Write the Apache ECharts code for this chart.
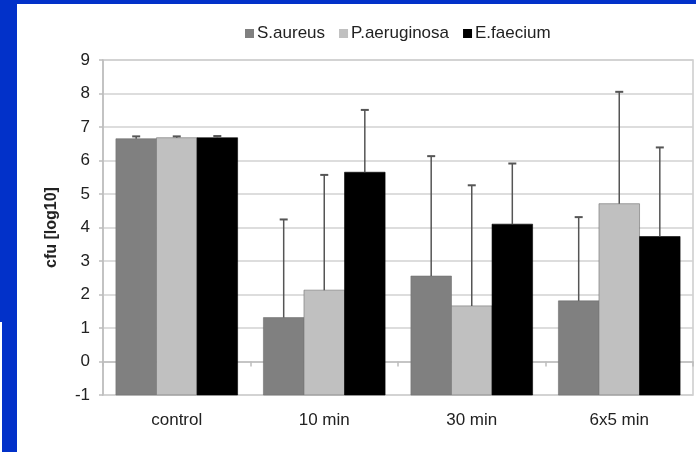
<!DOCTYPE html>
<html>
<head>
<meta charset="utf-8">
<script src="https://cdn.jsdelivr.net/npm/echarts@6/dist/echarts.min.js"></script>
<style>
  html, body { margin: 0; padding: 0; }
  body { width: 696px; height: 452px; background: #0231c9; position: relative; overflow: hidden; }
  #edge { position: absolute; left: 0; top: 322px; width: 2px; height: 130px; background: #ffffff; }
  #chart { position: absolute; left: 17px; top: 4px; width: 679px; height: 448px; background: #ffffff; }
</style>
</head>
<body>
<div id="edge"></div>
<div id="chart"></div>
<script>
// Bacterial counts after treatment, mean cfu (log10) with upper standard deviation
const categories = ['control', '10 min', '30 min', '6x5 min'];
const seriesNames = ['S.aureus', 'P.aeruginosa', 'E.faecium'];
const saureus = [6.65, 1.31, 2.55, 1.81];
const saureusSd = [0.07, 2.93, 3.58, 2.50];
const paeruginosa = [6.68, 2.13, 1.66, 4.71];
const paeruginosaSd = [0.04, 3.44, 3.60, 3.34];
const efaecium = [6.68, 5.65, 4.10, 3.73];
const efaeciumSd = [0.05, 1.86, 1.81, 2.66];
const yTicks = [-1, 0, 1, 2, 3, 4, 5, 6, 7, 8, 9];

const colors = ['#808080', '#c0c0c0', '#000000'];
const means = [saureus, paeruginosa, efaecium];
const sds = [saureusSd, paeruginosaSd, efaeciumSd];
const yMin = yTicks[0];
const yMax = yTicks[yTicks.length - 1];

const chart = echarts.init(document.getElementById('chart'), null, { renderer: 'canvas' });

// Each organism is one custom series: bar rising from the axis floor plus an upward error whisker
function makeRenderer(slot) {
  return function (params, api) {
    const ci = api.value(0);
    const v = api.value(1);
    const sd = api.value(2);
    const band = api.size([1, 0])[0];
    const barW = band * 0.275;
    const center = api.coord([ci, v]);
    const cx = center[0] + (slot - 1) * barW;
    const top = center[1];
    const base = api.coord([ci, yMin])[1];
    const errTop = api.coord([ci, v + sd])[1];
    const cap = 4;
    return {
      type: 'group',
      children: [
        {
          type: 'rect',
          shape: { x: cx - barW / 2, y: top, width: barW, height: base - top },
          style: { fill: colors[slot], stroke: slot === 2 ? '#000000' : '#6e6e6e', lineWidth: 0.6 }
        },
        {
          type: 'line',
          shape: { x1: cx, y1: top, x2: cx, y2: errTop },
          style: { stroke: '#555555', lineWidth: 1.5 }
        },
        {
          type: 'line',
          shape: { x1: cx - cap, y1: errTop, x2: cx + cap, y2: errTop },
          style: { stroke: '#555555', lineWidth: 2 }
        }
      ]
    };
  };
}

const series = seriesNames.map(function (name, s) {
  return {
    name: name,
    type: 'custom',
    itemStyle: { color: colors[s] },
    encode: { x: 0, y: 1 },
    data: categories.map(function (c, i) { return [i, means[s][i], sds[s][i]]; }),
    renderItem: makeRenderer(s),
    z: 3
  };
});

chart.setOption({
  animation: false,
  textStyle: { fontFamily: 'Liberation Sans, Arial, sans-serif' },
  legend: {
    top: 16,
    left: 223,
    itemWidth: 9,
    itemHeight: 9,
    itemGap: 14,
    icon: 'rect',
    textStyle: { fontSize: 17, color: '#222222', padding: [0, 0, 0, -2] },
    data: seriesNames
  },
  grid: {
    left: 86,
    right: 3,
    top: 56,
    bottom: 57,
    show: true,
    borderColor: '#cccccc',
    borderWidth: 1.5,
    containLabel: false
  },
  xAxis: {
    type: 'category',
    data: categories,
    boundaryGap: true,
    axisLine: { show: true, lineStyle: { color: '#bdbdbd', width: 1.5 } },
    axisTick: { show: true, length: 5, lineStyle: { color: '#bdbdbd', width: 1.5 } },
    axisLabel: { fontSize: 17, color: '#222222', margin: 17 },
    splitLine: { show: false }
  },
  yAxis: {
    type: 'value',
    min: yMin,
    max: yMax,
    interval: 1,
    name: 'cfu [log10]',
    nameLocation: 'middle',
    nameGap: 43,
    nameTextStyle: { fontSize: 16, fontWeight: 'bold', color: '#222222' },
    axisLine: { show: true, lineStyle: { color: '#bdbdbd', width: 1.5 } },
    axisTick: { show: true, length: 4, lineStyle: { color: '#bdbdbd', width: 1.5 } },
    axisLabel: { fontSize: 17, color: '#222222', margin: 13 },
    splitLine: { show: true, lineStyle: { color: '#d2d2d2', width: 1.5 } }
  },
  series: series
});
</script>
</body>
</html>
